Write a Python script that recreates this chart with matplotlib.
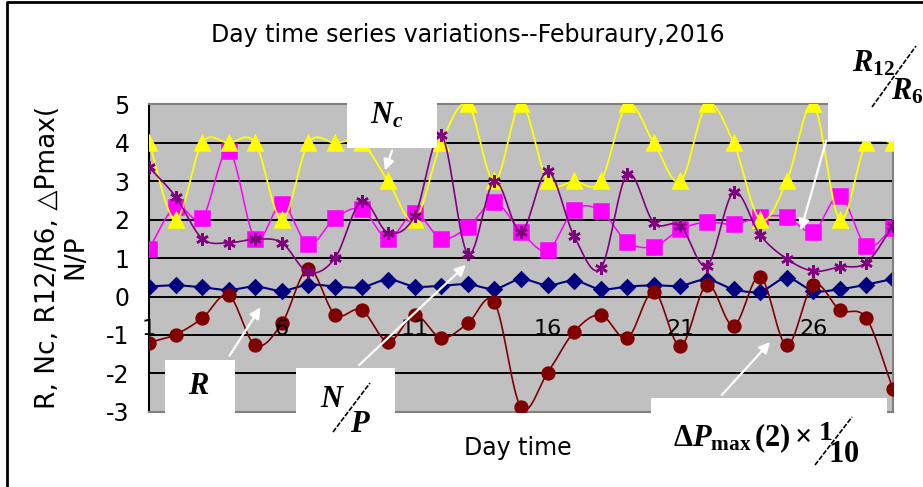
import numpy as np
import matplotlib.pyplot as plt
from matplotlib.patches import Rectangle, FancyArrowPatch
from matplotlib.lines import Line2D

plt.rcParams['mathtext.fontset'] = 'custom'
plt.rcParams['mathtext.rm'] = 'Liberation Serif:bold'
plt.rcParams['mathtext.it'] = 'Liberation Serif:italic:bold'
plt.rcParams['mathtext.bf'] = 'Liberation Serif:bold'

days = list(range(1, 30))
r_vals = [0.26, 0.29, 0.24, 0.17, 0.26, 0.15, 0.31, 0.26, 0.24, 0.44, 0.26, 0.28, 0.32, 0.20, 0.45,
          0.29, 0.41, 0.19, 0.26, 0.29, 0.28, 0.44, 0.19, 0.13, 0.48, 0.15, 0.19, 0.31, 0.46]
nc_vals = [4, 2, 4, 4, 4, 2, 4, 4, 4, 3, 2, 4, 5, 3, 5, 3, 3, 3, 5, 4, 3, 5, 4, 2, 3, 5, 2, 4, 4]
r12_r6 = [1.25, 2.34, 2.04, 3.8, 1.5, 2.4, 1.36, 2.04, 2.27, 1.51, 2.17, 1.51, 1.81, 2.45, 1.69,
          1.2, 2.26, 2.23, 1.42, 1.3, 1.75, 1.94, 1.88, 2.07, 2.07, 1.69, 2.62, 1.31, 1.79]
dpmax = [-1.2, -0.99, -0.57, 0.03, -1.27, -0.7, 0.72, -0.47, -0.35, -1.18, -0.48, -1.08, -0.7, -0.15, -2.89,
         -1.99, -0.92, -0.48, -1.08, 0.13, -1.29, 0.31, -0.76, 0.52, -1.27, 0.31, -0.35, -0.57, -2.41]
np_vals = [3.37, 2.6, 1.51, 1.4, 1.49, 1.4, 0.63, 1.0, 2.48, 1.66, 2.1, 4.2, 1.11, 3.0, 1.69,
           3.26, 1.57, 0.73, 3.18, 1.92, 1.84, 0.8, 2.71, 1.6, 0.98, 0.66, 0.77, 0.88, 1.84]
xtick_days = [1, 6, 11, 16, 21, 26]
yticks = [-3, -2, -1, 0, 1, 2, 3, 4, 5]

title = "Day time series variations--Feburaury,2016"
ylabel = "R, Nc, R12/R6, \u25b3Pmax(\nN/P"
xlabel = "Day time"

W, H = 923, 487


def fx(px):
    return px / W


def fy(py):
    return 1 - py / H


def smooth(x, y, n=16):
    # catmull-rom curve like excel smoothed lines
    x = np.asarray(x, float)
    y = np.asarray(y, float)
    px = np.concatenate([[2 * x[0] - x[1]], x, [2 * x[-1] - x[-2]]])
    py = np.concatenate([[2 * y[0] - y[1]], y, [2 * y[-1] - y[-2]]])
    t = np.linspace(0, 1, n, endpoint=False)
    ox, oy = [], []
    for i in range(1, len(px) - 2):
        for p, o in ((px, ox), (py, oy)):
            p0, p1, p2, p3 = p[i - 1], p[i], p[i + 1], p[i + 2]
            v = 0.5 * (2 * p1 + (p2 - p0) * t + (2 * p0 - 5 * p1 + 4 * p2 - p3) * t ** 2
                       + (-p0 + 3 * p1 - 3 * p2 + p3) * t ** 3)
            o.extend(v)
    ox.append(x[-1])
    oy.append(y[-1])
    return ox, oy


fig = plt.figure(figsize=(9.23, 4.87), dpi=100)
ax = fig.add_axes([fx(149), fy(411.7), fx(893) - fx(149), fy(104.5) - fy(411.7)])
ax.set_xlim(1, 29)
ax.set_ylim(-3, 5)
ax.set_facecolor('#c0c0c0')
for g in yticks[1:-1]:
    ax.axhline(g, color='black', lw=1.4, zorder=1)

series = [
    (r_vals, '#000080', 'D', 7, 1.5, 2),
    (r12_r6, '#ff00ff', 's', 9.5, 1.1, 3),
    (nc_vals, '#ffff00', '^', 9.5, 1.3, 4),
    (dpmax, '#800000', 'o', 8.5, 1.2, 5),
    (np_vals, '#800080', (6, 2, 0), 9, 1.2, 6),
]
for vals, col, mk, ms, lw, z in series:
    sx, sy = smooth(days, vals)
    ax.plot(sx, sy, color=col, lw=lw, zorder=z)
    ax.plot(days, vals, ls='none', marker=mk, ms=ms, color=col, mec=col, mew=1.8, zorder=z)

ax.set_xticks([])
ax.set_yticks(yticks)
ax.set_yticklabels([str(v) for v in yticks], fontsize=17)
ax.tick_params(axis='y', length=0, pad=14)
for d in xtick_days:
    ax.text(d, -0.85, str(d), ha='center', va='center', fontsize=16, zorder=7)

for s in ['top', 'right', 'bottom']:
    ax.spines[s].set_color('#808080')
    ax.spines[s].set_linewidth(1.5)
ax.spines['left'].set_color('black')
ax.spines['left'].set_linewidth(1.5)

# white label boxes over the plot area
boxes = [(347, 60, 437, 148), (828, 20, 930, 141), (165, 360, 235, 480),
         (296, 368, 395, 480), (651, 398, 887, 480)]
for x0, y0, x1, y1 in boxes:
    fig.add_artist(Rectangle((fx(x0), fy(y1)), fx(x1) - fx(x0), fy(y0) - fy(y1),
                             transform=fig.transFigure, facecolor='white', edgecolor='none', zorder=2))

arrows = [((393, 148), (384, 173)), ((827, 138), (800, 233)), ((228, 358), (262, 305)),
          ((357, 367), (468, 263)), ((720, 397), (772, 340))]
for a, b in arrows:
    fig.add_artist(FancyArrowPatch((fx(a[0]), fy(a[1])), (fx(b[0]), fy(b[1])), transform=fig.transFigure,
                                   arrowstyle='-|>', mutation_scale=16, color='white', lw=1.6, zorder=3))

# annotation labels
fig.text(fx(370), fy(123), r'$N_c$', fontsize=22, ha='left', va='baseline', zorder=4)
fig.text(fx(852), fy(71), r'$R_{\mathrm{12}}$', fontsize=22, ha='left', va='baseline', zorder=4)
fig.text(fx(891), fy(100), r'$R_{\mathrm{6}}$', fontsize=22, ha='left', va='baseline', zorder=4)
fig.text(fx(199), fy(385), r'$R$', fontsize=22, ha='center', va='center', zorder=4)
fig.text(fx(320), fy(407), r'$N$', fontsize=22, ha='left', va='baseline', zorder=4)
fig.text(fx(350), fy(432), r'$P$', fontsize=22, ha='left', va='baseline', zorder=4)
fig.text(fx(673), fy(446), r'$\Delta P_{\mathrm{max}}\,\mathrm{(2)}\times$', fontsize=22,
         ha='left', va='baseline', zorder=4)
fig.text(fx(818), fy(440), r'$\mathrm{1}$', fontsize=20, ha='left', va='baseline', zorder=4)
fig.text(fx(828), fy(462), r'$\mathrm{10}$', fontsize=22, ha='left', va='baseline', zorder=4)
for (x0, y0), (x1, y1) in [((872, 107), (916, 46)), ((333, 432), (370, 383)), ((815, 465), (852, 417))]:
    fig.add_artist(Line2D([fx(x0), fx(x1)], [fy(y0), fy(y1)], transform=fig.transFigure,
                          color='black', lw=1.2, ls=(0, (3, 1)), zorder=4))

fig.text(fx(468), fy(35), title, ha='center', va='center', fontsize=17)
fig.text(fx(62), fy(257), ylabel, ha='center', va='center', rotation=90,
         fontsize=19, linespacing=1.05, multialignment='center')
fig.text(fx(518), fy(448), xlabel, ha='center', va='center', fontsize=17)

# chart area border
fig.add_artist(Line2D([fx(7), fx(7), fx(940)], [fy(500), fy(1.5), fy(1.5)], transform=fig.transFigure,
                      color='black', lw=2))

fig.savefig('out.png', dpi=100)
